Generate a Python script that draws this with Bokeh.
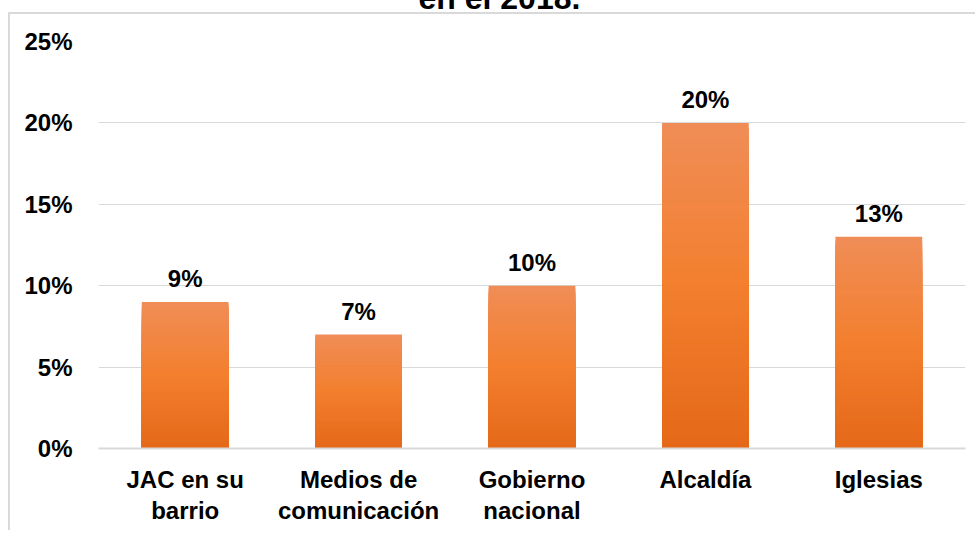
from bokeh.plotting import figure
from bokeh.models import ColumnDataSource, LabelSet, NumeralTickFormatter, FixedTicker
from bokeh.core.properties import value
from bokeh.embed import file_html
from bokeh.resources import INLINE

# ---- data ----
categories = ["JAC en su\nbarrio", "Medios de\ncomunicación", "Gobierno\nnacional", "Alcaldía", "Iglesias"]
values = [0.09, 0.07, 0.10, 0.20, 0.13]
value_labels = ["9%", "7%", "10%", "20%", "13%"]
y_ticks = [0, 0.05, 0.10, 0.15, 0.20, 0.25]
title_text = "en el 2018."

FONT = "Liberation Sans"

p = figure(
    x_range=categories, y_range=(0, 0.25),
    width=975, height=575,
    output_backend="svg", toolbar_location=None,
    min_border_left=98, min_border_right=10, min_border_top=86, min_border_bottom=82,
)
p.border_fill_color = None
p.background_fill_color = None
p.outline_line_color = None
p.styles = {
    "margin-top": "-45px",
    "background-image": "linear-gradient(#d9d9d9, #d9d9d9), linear-gradient(#d9d9d9, #d9d9d9)",
    "background-size": "100% 2px, 2px 100%",
    "background-position": "8px 57px, 8px 57px",
    "background-repeat": "no-repeat",
}

# title (cut off at the top in the reference)
p.title.text = title_text
p.title.align = "left"
p.title.offset = 320
p.title.vertical_align = "top"
p.title.standoff = 47
p.title.text_font = FONT
p.title.text_font_size = "32px"
p.title.text_font_style = "bold"
p.title.text_color = "#000000"

# gradient bars: stacked overlapping bars, light at top, darker at bottom
stops = [(0.0, (228, 104, 24)), (0.5, (243, 127, 46)), (1.0, (240, 141, 87))]

def grad(t):
    for (t0, c0), (t1, c1) in zip(stops[:-1], stops[1:]):
        if t <= t1:
            f = (t - t0) / (t1 - t0)
            return "#%02x%02x%02x" % tuple(int(round(a + (b - a) * f)) for a, b in zip(c0, c1))
    return "#%02x%02x%02x" % stops[-1][1]

N = 60
for k in range(N, 0, -1):
    frac = k / N
    src = ColumnDataSource(dict(x=categories, top=[v * frac for v in values]))
    p.vbar(x="x", top="top", bottom=0, width=0.5, source=src,
           fill_color=grad((k - 0.5) / N), line_color=None)

# value labels
lab_src = ColumnDataSource(dict(x=categories, y=values, t=value_labels))
p.add_layout(LabelSet(x="x", y="y", text="t", source=lab_src, y_offset=15,
                      text_align="center", text_baseline="alphabetic",
                      text_font=value(FONT), text_font_size=value("24px"),
                      text_font_style="bold", text_color="#000000"))

# axes
p.yaxis.ticker = FixedTicker(ticks=y_ticks)
p.yaxis.formatter = NumeralTickFormatter(format="0%")
p.yaxis.axis_line_color = None
p.yaxis.major_tick_line_color = None
p.yaxis.minor_tick_line_color = None
p.yaxis.major_label_standoff = 20
p.yaxis.major_label_text_font = FONT
p.yaxis.major_label_text_font_size = "24px"
p.yaxis.major_label_text_font_style = "bold"
p.yaxis.major_label_text_color = "#000000"

p.xaxis.axis_line_color = "#d9d9d9"
p.xaxis.axis_line_width = 2
p.xaxis.major_tick_line_color = None
p.xaxis.minor_tick_line_color = None
p.xaxis.major_label_standoff = 11
p.xaxis.major_label_text_font = FONT
p.xaxis.major_label_text_font_size = "24px"
p.xaxis.major_label_text_font_style = "bold"
p.xaxis.major_label_text_color = "#000000"
p.xaxis.major_label_text_line_height = 1.15

p.xgrid.grid_line_color = None
p.ygrid.grid_line_color = "#d9d9d9"
p.ygrid.grid_line_width = 1

open("out.html", "w").write(file_html(p, INLINE))
